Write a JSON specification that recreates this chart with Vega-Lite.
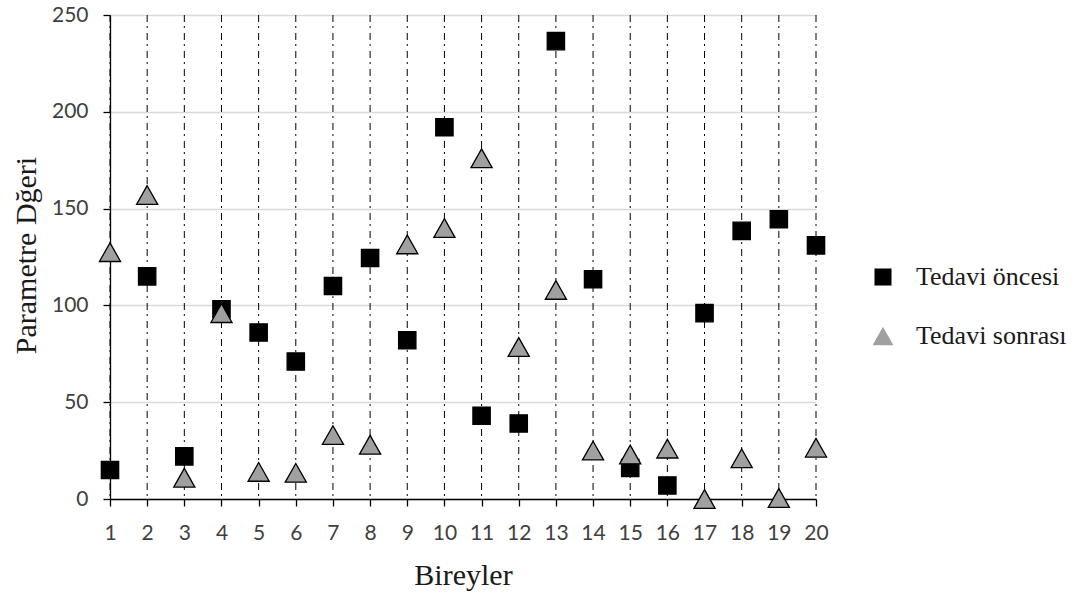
{
  "$schema": "https://vega.github.io/schema/vega-lite/v6.json",
  "autosize": "none",
  "width": 706,
  "height": 484,
  "padding": {"left": 110, "top": 15, "right": 275, "bottom": 98},
  "background": "white",
  "config": {"view": {"stroke": null}},
  "data": {"values": [
    {"id": 1, "series": "Tedavi öncesi", "value": 15},
    {"id": 2, "series": "Tedavi öncesi", "value": 115},
    {"id": 3, "series": "Tedavi öncesi", "value": 22},
    {"id": 4, "series": "Tedavi öncesi", "value": 98},
    {"id": 5, "series": "Tedavi öncesi", "value": 86},
    {"id": 6, "series": "Tedavi öncesi", "value": 71},
    {"id": 7, "series": "Tedavi öncesi", "value": 110},
    {"id": 8, "series": "Tedavi öncesi", "value": 124.5},
    {"id": 9, "series": "Tedavi öncesi", "value": 82},
    {"id": 10, "series": "Tedavi öncesi", "value": 192},
    {"id": 11, "series": "Tedavi öncesi", "value": 43},
    {"id": 12, "series": "Tedavi öncesi", "value": 39},
    {"id": 13, "series": "Tedavi öncesi", "value": 236.5},
    {"id": 14, "series": "Tedavi öncesi", "value": 113.5},
    {"id": 15, "series": "Tedavi öncesi", "value": 16},
    {"id": 16, "series": "Tedavi öncesi", "value": 7},
    {"id": 17, "series": "Tedavi öncesi", "value": 96},
    {"id": 18, "series": "Tedavi öncesi", "value": 138.5},
    {"id": 19, "series": "Tedavi öncesi", "value": 144.5},
    {"id": 20, "series": "Tedavi öncesi", "value": 131},
    {"id": 1, "series": "Tedavi sonrası", "value": 127.5},
    {"id": 2, "series": "Tedavi sonrası", "value": 157},
    {"id": 3, "series": "Tedavi sonrası", "value": 11},
    {"id": 4, "series": "Tedavi sonrası", "value": 96},
    {"id": 5, "series": "Tedavi sonrası", "value": 14},
    {"id": 6, "series": "Tedavi sonrası", "value": 13.5},
    {"id": 7, "series": "Tedavi sonrası", "value": 33},
    {"id": 8, "series": "Tedavi sonrası", "value": 28},
    {"id": 9, "series": "Tedavi sonrası", "value": 131.5},
    {"id": 10, "series": "Tedavi sonrası", "value": 140},
    {"id": 11, "series": "Tedavi sonrası", "value": 176},
    {"id": 12, "series": "Tedavi sonrası", "value": 78.5},
    {"id": 13, "series": "Tedavi sonrası", "value": 108},
    {"id": 14, "series": "Tedavi sonrası", "value": 25},
    {"id": 15, "series": "Tedavi sonrası", "value": 23},
    {"id": 16, "series": "Tedavi sonrası", "value": 26},
    {"id": 17, "series": "Tedavi sonrası", "value": 0},
    {"id": 18, "series": "Tedavi sonrası", "value": 21},
    {"id": 19, "series": "Tedavi sonrası", "value": 0.5},
    {"id": 20, "series": "Tedavi sonrası", "value": 26.5}
  ]},
  "encoding": {
    "x": {
      "field": "id", "type": "quantitative",
      "scale": {"domain": [1, 20], "nice": false, "zero": false},
      "axis": {
        "values": [1,2,3,4,5,6,7,8,9,10,11,12,13,14,15,16,17,18,19,20],
        "title": "Bireyler",
        "grid": false, "labelFlush": false,
        "domainColor": "black", "domainWidth": 1.3,
        "tickColor": "black", "tickSize": 7, "tickWidth": 1.3,
        "labelFont": "Lato", "labelFontSize": 21, "labelColor": "#404040",
        "labelBaseline": "alphabetic", "labelPadding": 33,
        "titleFont": "Liberation Serif", "titleFontSize": 30, "titleFontWeight": "normal", "titleColor": "#1a1a1a",
        "titleBaseline": "alphabetic", "titleY": 85, "titleX": 353
      }
    },
    "y": {
      "field": "value", "type": "quantitative",
      "scale": {"domain": [0, 250], "nice": false},
      "axis": {
        "values": [0, 50, 100, 150, 200, 250],
        "title": "Parametre Dğeri",
        "grid": true, "gridColor": "#d9d9d9", "gridWidth": 1.3, "labelFlush": false,
        "domainColor": "black", "domainWidth": 1.3,
        "tickColor": "black", "tickSize": 7, "tickWidth": 1.3,
        "labelFont": "Lato", "labelFontSize": 21, "labelColor": "#404040", "labelPadding": 15,
        "titleFont": "Liberation Serif", "titleFontSize": 30, "titleFontWeight": "normal", "titleColor": "#1a1a1a",
        "titleAngle": -90, "titleAlign": "center", "titleBaseline": "alphabetic", "titleX": -75, "titleY": 240
      }
    }
  },
  "layer": [
    {
      "transform": [{"filter": "datum.series === 'Tedavi öncesi'"}],
      "mark": {"type": "rule", "color": "black", "strokeWidth": 1, "strokeDash": [7, 4, 2, 5]},
      "encoding": {"y": null}
    },
    {
      "mark": {"type": "point", "filled": true, "stroke": "black", "strokeWidth": 1.3, "opacity": 1, "size": 300},
      "encoding": {
        "shape": {
          "field": "series", "type": "nominal",
          "scale": {"domain": ["Tedavi öncesi", "Tedavi sonrası"], "range": ["M-1,-1H1V1H-1Z", "M0,-1.08L1.22,1.08L-1.22,1.08Z"]},
          "legend": {
            "title": null, "orient": "none", "legendX": 760, "legendY": 249, "padding": 0,
            "labelFont": "Liberation Serif", "labelFontSize": 26, "labelColor": "#1a1a1a",
            "labelOffset": 20, "rowPadding": 33, "symbolStrokeColor": "black", "symbolStrokeWidth": 1.2,
            "symbolSize": 290,
            "encode": {"symbols": {"update": {"stroke": {"value": "black"}, "strokeWidth": {"value": 1.2}}}}
          }
        },
        "fill": {
          "field": "series", "type": "nominal",
          "scale": {"domain": ["Tedavi öncesi", "Tedavi sonrası"], "range": ["#000000", "#a0a0a0"]},
          "legend": {
            "title": null, "orient": "none", "legendX": 760, "legendY": 249, "padding": 0,
            "labelFont": "Liberation Serif", "labelFontSize": 26, "labelColor": "#1a1a1a",
            "labelOffset": 20, "rowPadding": 33, "symbolStrokeColor": "black", "symbolStrokeWidth": 1.2,
            "symbolSize": 290,
            "encode": {"symbols": {"update": {"stroke": {"value": "black"}, "strokeWidth": {"value": 1.2}}}}
          }
        }
      }
    }
  ]
}
